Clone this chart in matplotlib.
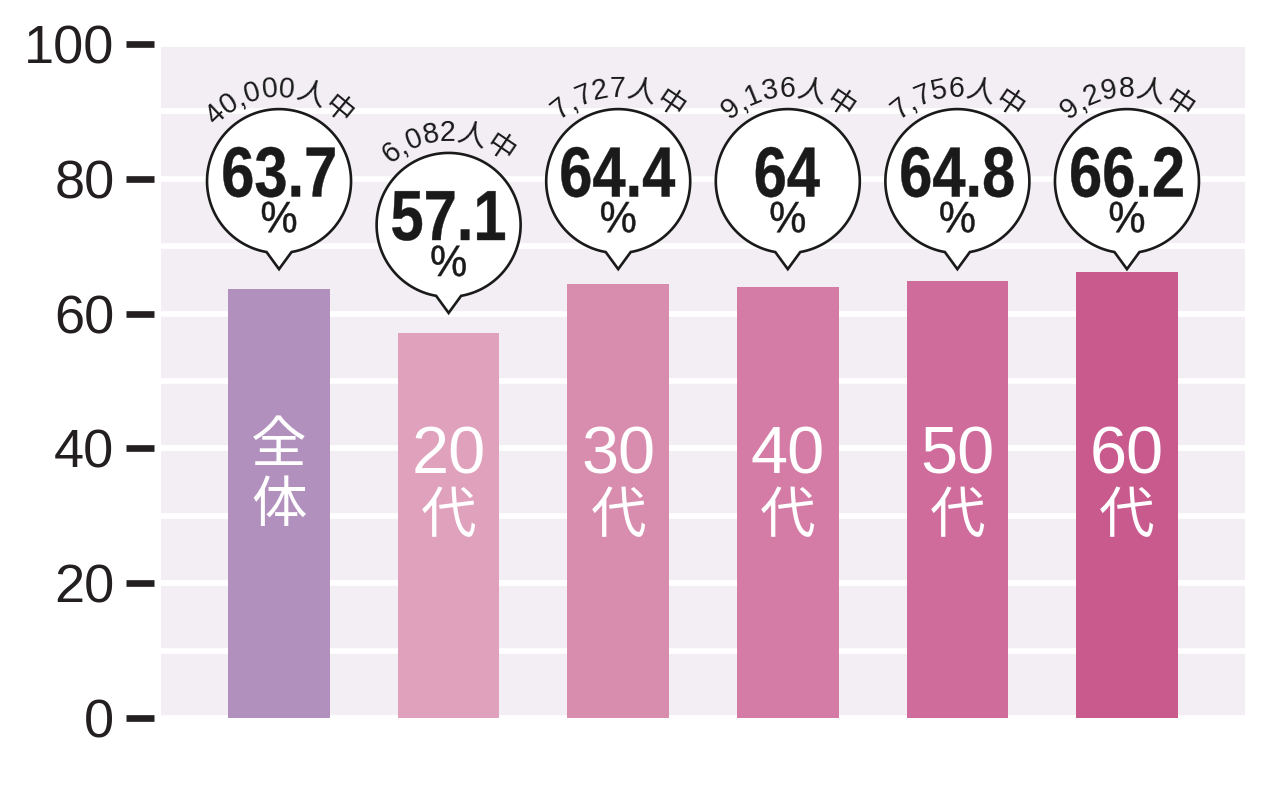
import numpy as np
import matplotlib
matplotlib.use("Agg")
import matplotlib.pyplot as plt
from matplotlib.path import Path
from matplotlib.patches import PathPatch
from matplotlib.textpath import TextPath
from matplotlib.font_manager import FontProperties
import matplotlib.transforms as mtransforms

# ---- data ----
categories = ["全体", "20代", "30代", "40代", "50代", "60代"]
label_top = ["全", "20", "30", "40", "50", "60"]
label_bottom = ["体", "代", "代", "代", "代", "代"]
values = [63.7, 57.1, 64.4, 64.0, 64.8, 66.2]
value_labels = ["63.7", "57.1", "64.4", "64", "64.8", "66.2"]
sample_sizes = ["40,000人中", "6,082人中", "7,727人中", "9,136人中", "7,756人中", "9,298人中"]
bar_colors = ["#b190bd", "#e0a1bd", "#d98dae", "#d47ca5", "#cf6c9c", "#c95a8e"]
yticks = [0, 20, 40, 60, 80, 100]

SANS = ["Liberation Sans", "Noto Sans CJK JP", "DejaVu Sans"]
CJK = ["Noto Sans CJK JP", "DejaVu Sans"]
INK = "#1a1a1a"

W, H, DPI = 1279, 788, 100
fig = plt.figure(figsize=(W / DPI, H / DPI), dpi=DPI)
ax = fig.add_axes([161 / W, 1 - 718 / H, (1245 - 161) / W, (718 - 44) / H])
ax.set_xlim(-0.696, 5.696)
ax.set_ylim(0, 100)
ax.set_facecolor("#f2eef4")
for s in ax.spines.values():
    s.set_visible(False)
ax.spines["left"].set_position(("outward", 5))

for g in range(0, 101, 10):
    ax.axhline(g, color="white", lw=4.2, zorder=1)

x = np.arange(len(values))
ax.bar(x, values, width=0.6, color=bar_colors, zorder=2)

ax.set_xticks([])
ax.set_yticks(yticks)
ax.set_yticklabels([str(t) for t in yticks], fontsize=39, family=SANS, color="#231f20")
ax.tick_params(axis="y", direction="out", length=20, width=4.8, color="#231f20", pad=8.5)

# labels inside bars
for i in range(len(values)):
    top = label_top[i]
    is_cjk = not top[0].isdigit()
    ax.text(x[i], 40.3 if is_cjk else 38.8, top, color="white", ha="center", va="center",
            fontsize=40 if is_cjk else 48, family=CJK if is_cjk else SANS, zorder=3)
    ax.text(x[i], 31.4 if is_cjk else 29.8, label_bottom[i], color="white", ha="center", va="center",
            fontsize=40, family=CJK, zorder=3)

R = 72.0
CY = 88.0
TH = 10.0
fs_small_px = 28.5


def char_w(c):
    if c.isdigit():
        return 0.556
    if c == ",":
        return 0.278
    return 1.0


def condensed_text(s, size_px, weight, cx, cy, sx, tr, zorder):
    """Draw text s as a path, horizontally condensed by sx, centred at (cx, cy) px."""
    prop = FontProperties(family="Liberation Sans", weight=weight)
    tp = TextPath((0, 0), s, size=size_px, prop=prop)
    ext = tp.get_extents()
    t = (mtransforms.Affine2D()
         .translate(-(ext.x0 + ext.x1) / 2, -(ext.y0 + ext.y1) / 2)
         .scale(sx, 1.0)
         .translate(cx, cy)
         .scale(1 / DPI))
    p = t.transform_path(tp)
    ax.add_patch(PathPatch(p, facecolor=INK, edgecolor=INK, lw=0.3, transform=tr,
                           zorder=zorder, clip_on=False))


for i, v in enumerate(values):
    tip = min(v + 3.0, 66.6)
    off = mtransforms.ScaledTranslation(x[i], tip, ax.transData)
    tr = fig.dpi_scale_trans + off
    th = np.deg2rad(np.linspace(-90 + TH, 270 - TH, 240))
    verts = [(R * np.cos(t) / DPI, (CY + R * np.sin(t)) / DPI) for t in th]
    verts.append((0, 0))
    verts.append(verts[0])
    codes = [Path.MOVETO] + [Path.LINETO] * (len(verts) - 2) + [Path.CLOSEPOLY]
    ax.add_patch(PathPatch(Path(verts, codes), facecolor="white", edgecolor=INK,
                           lw=1.9, transform=tr, zorder=5, clip_on=False, joinstyle="miter"))
    condensed_text(value_labels[i], 71, "bold", 0, CY + 9, 0.84, tr, 6)
    condensed_text("%", 44, "normal", 0, CY - 36, 0.95, tr, 6)
    s = sample_sizes[i]
    widths = [char_w(c) * fs_small_px for c in s]
    total = sum(widths)
    rb = R + 12
    cum = 0.0
    for c, w in zip(s, widths):
        cc = cum + w / 2
        ang = np.pi / 2 + (total / 2 - cc) / rb
        px = rb * np.cos(ang)
        py = CY + rb * np.sin(ang)
        ax.text(px / DPI, py / DPI, c, transform=tr, ha="center", va="baseline",
                rotation=np.rad2deg(ang) - 90, rotation_mode="anchor",
                fontsize=fs_small_px * 72 / DPI, family=SANS, color=INK, zorder=6)
        cum += w

fig.savefig("out.png", dpi=DPI, facecolor="white")
